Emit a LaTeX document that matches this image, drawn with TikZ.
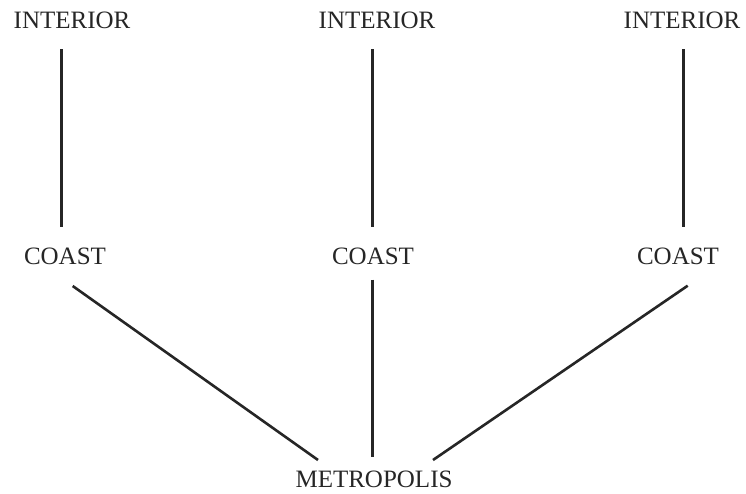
\documentclass[tikz,border=0pt]{standalone}
\usepackage{fontspec}
\setmainfont{Liberation Serif}
\begin{document}
\begin{tikzpicture}[x=1pt,y=-1pt,
  lbl/.style={inner sep=0pt, font=\fontsize{25}{25}\selectfont, text=black!85},
  link/.style={line width=2.6pt, draw=black!85}]
\useasboundingbox (0,0) rectangle (746,494);
\node[lbl] (i1) at (72,20.5) {INTERIOR};
\node[lbl] (i2) at (377,20.5) {INTERIOR};
\node[lbl] (i3) at (682,20.5) {INTERIOR};
\node[lbl] (c1) at (65,256) {COAST};
\node[lbl] (c2) at (373,256) {COAST};
\node[lbl] (c3) at (678,256) {COAST};
\node[lbl] (m) at (374,479) {METROPOLIS};
\coordinate (i1b) at (61.3,49.3);
\coordinate (i2b) at (372.7,49.3);
\coordinate (i3b) at (683.7,49.3);
\coordinate (c1t) at (61.3,226.7);
\coordinate (c2t) at (372.7,226.7);
\coordinate (c3t) at (683.7,226.7);
\coordinate (c1b) at (72.7,286);
\coordinate (c2b) at (372.7,279.5);
\coordinate (c3b) at (687.7,285.7);
\coordinate (ml) at (318,460);
\coordinate (mc) at (372.7,457);
\coordinate (mr) at (433,460);
\draw[link] (i1b) -- (c1t);
\draw[link] (i2b) -- (c2t);
\draw[link] (i3b) -- (c3t);
\draw[link] (c1b) -- (ml);
\draw[link] (c2b) -- (mc);
\draw[link] (c3b) -- (mr);
\end{tikzpicture}
\end{document}
